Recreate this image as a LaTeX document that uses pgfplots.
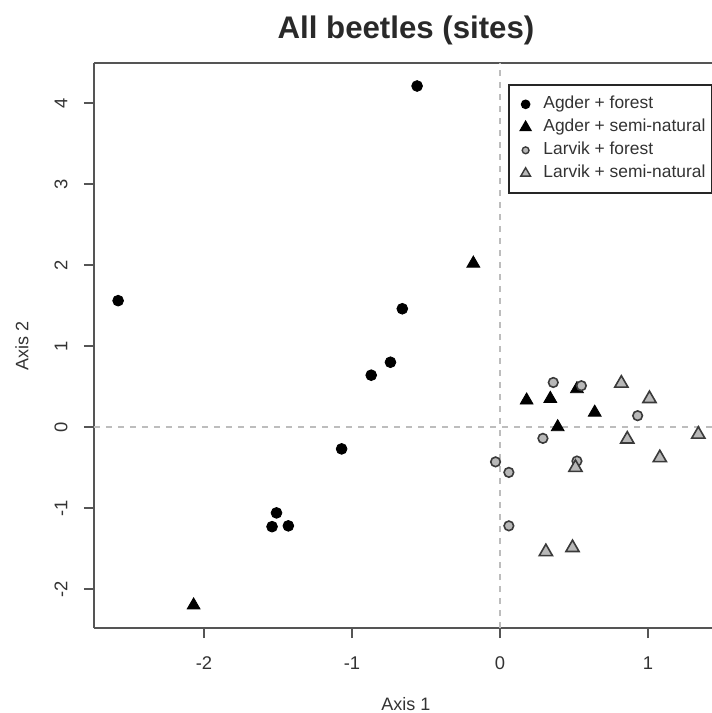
\documentclass[border=0pt]{standalone}
\usepackage{fontspec}
\setmainfont{Liberation Sans}
\usepackage{pgfplots}
\pgfplotsset{compat=1.18}
\definecolor{txt}{HTML}{333333}
\definecolor{frm}{HTML}{555555}
\definecolor{dashc}{HTML}{BDBDBD}
\definecolor{gfill}{HTML}{B8B8B8}
\definecolor{gedge}{HTML}{3A3A3A}
\begin{document}
\begin{tikzpicture}
\begin{axis}[
  scale only axis,
  width=312pt, height=282.5pt,
  xmin=-2.743, xmax=1.473,
  ymin=-2.481, ymax=4.494,
  axis x line*=box, axis y line*=left,
  xtick pos=bottom, ytick pos=left,
  axis line style={frm, line width=0.9pt},
  tick style={frm, line width=0.9pt},
  tick align=outside,
  major tick length=5pt,
  xtick={-2,-1,0,1}, ytick={-2,-1,0,1,2,3,4},
  x tick label style={font=\fontsize{9.2}{11}\selectfont, text=txt, anchor=center, yshift=-12.5pt},
  y tick label style={font=\fontsize{9.2}{11}\selectfont, text=txt, rotate=90, anchor=center},
  yticklabel shift=11.5pt,
  /pgf/number format/assume math mode=true,
  title={All beetles (sites)},
  every axis title shift=0pt,
  title style={font=\fontsize{15.6}{18}\selectfont\bfseries, text=txt!80!black, at={(axis description cs:0.5,1)}, anchor=center, yshift=16.5pt},
  xlabel={Axis 1},
  ylabel={Axis 2},
  xlabel style={font=\fontsize{9}{11}\selectfont, text=txt, at={(axis description cs:0.5,0)}, anchor=center, yshift=-38pt},
  ylabel style={font=\fontsize{9}{11}\selectfont, text=txt, at={(axis description cs:-0.1154,0.5)}, anchor=center, rotate=0},
  legend cell align=left,
  legend style={at={(axis description cs:0.6635,0.9628)}, anchor=north west,
    draw=black!85, line width=0.8pt, inner xsep=3pt, inner ysep=4pt,
    font=\fontsize{8.7}{11}\selectfont, text=txt,
    row sep=0pt, column sep=2.5pt,
    nodes={inner sep=0pt, text height=8pt, text depth=3.5pt}},
  legend image code/.code={\path (0pt,0pt) (11pt,0pt); \draw[#1] plot coordinates {(5pt,0pt)};},
  clip=false
]
% reference lines
\addplot[dashc, dashed, line width=0.8pt, forget plot] coordinates {(0,-2.481) (0,4.494)};
\addplot[dashc, dashed, line width=0.8pt, forget plot] coordinates {(-2.743,0) (1.473,0)};

% Agder + forest
\addplot[only marks, mark=*, mark size=2.7pt, black, mark options={fill=black, draw=black}, forget plot] coordinates {
(-2.58,1.56) (-0.56,4.21) (-0.66,1.46) (-0.74,0.80) (-0.87,0.64)
(-1.07,-0.27) (-1.51,-1.06) (-1.54,-1.23) (-1.43,-1.22)
};
% Agder + semi-natural
\addplot[only marks, mark=triangle*, mark size=3.7pt, black, mark options={fill=black, draw=black}, forget plot] coordinates {
(-2.07,-2.20) (-0.18,2.02) (0.18,0.33) (0.34,0.35) (0.52,0.47) (0.64,0.18) (0.39,0.00)
};
% Larvik + forest
\addplot[only marks, mark=*, mark size=2.4pt, mark options={fill=gfill, draw=gedge, line width=0.8pt}, forget plot] coordinates {
(0.36,0.55) (0.55,0.51) (0.93,0.14) (0.29,-0.14) (-0.03,-0.43) (0.06,-0.56) (0.52,-0.42) (0.06,-1.22)
};
% Larvik + semi-natural
\addplot[only marks, mark=triangle*, mark size=3.8pt, mark options={fill=gfill, draw=gedge, line width=0.8pt}, forget plot] coordinates {
(0.82,0.54) (1.01,0.35) (0.86,-0.15) (1.34,-0.09) (1.08,-0.38) (0.51,-0.50) (0.31,-1.54) (0.49,-1.49)
};

\addlegendimage{only marks, mark=*, mark size=2pt, mark options={fill=black, draw=black}}
\addlegendentry{Agder + forest}
\addlegendimage{only marks, mark=triangle*, mark size=2.9pt, mark options={fill=black, draw=black}}
\addlegendentry{Agder + semi-natural}
\addlegendimage{only marks, mark=*, mark size=1.7pt, mark options={fill=gfill, draw=gedge, line width=0.7pt}}
\addlegendentry{Larvik + forest}
\addlegendimage{only marks, mark=triangle*, mark size=2.8pt, mark options={fill=gfill, draw=gedge, line width=0.7pt}}
\addlegendentry{Larvik + semi-natural}

\coordinate (bl) at (rel axis cs:0,0);
\coordinate (tr) at (rel axis cs:1,1);
\end{axis}
\pgfresetboundingbox
\path[use as bounding box] ([xshift=-47pt,yshift=-42.5pt]bl) rectangle ([xshift=-3pt,yshift=31.5pt]tr);
\end{tikzpicture}
\end{document}
